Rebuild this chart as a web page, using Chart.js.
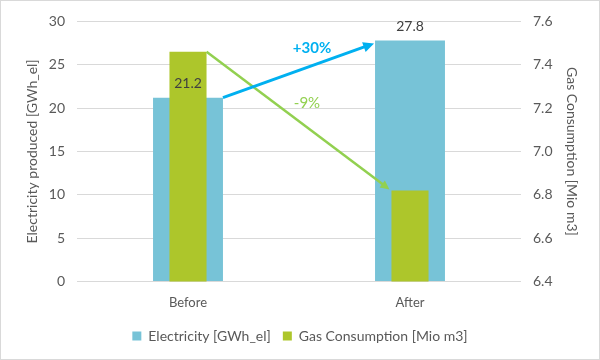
<!DOCTYPE html>
<html lang="en">
<head>
    <meta charset="UTF-8">
    <title>Electricity vs Gas</title>
    <script src="https://cdn.jsdelivr.net/npm/chart.js"></script>
    <style>
        body { margin: 0; background: #fff; }
        .wrap {
            width: 598px; height: 358px;
            border: 1px solid #d9d9d9;
        }
    </style>
</head>
<body>
    <div class="wrap"><canvas id="chart" width="598" height="358"></canvas></div>

    <script>
        // Daten
        const categories = ['Before', 'After'];
        const electricity = [21.2, 27.8];      // GWh_el
        const gasConsumption = [7.46, 6.82];   // Mio m3
        const leftTicks = { min: 0, max: 30, step: 5 };
        const rightTicks = { min: 6.4, max: 7.6, step: 0.2 };
        const changeLabels = { electricity: '+30%', gas: '-9%' };

        const blueArrow = '#00B0F0';
        const greenArrow = '#92D050';
        const fontFamily = 'Lato, "Open Sans", sans-serif';

        function arrow(ctx, x1, y1, x2, y2, color, width, head) {
            const a = Math.atan2(y2 - y1, x2 - x1);
            ctx.save();
            ctx.strokeStyle = color;
            ctx.fillStyle = color;
            ctx.lineWidth = width;
            ctx.beginPath();
            ctx.moveTo(x1, y1);
            ctx.lineTo(x2 - Math.cos(a) * head * 0.8, y2 - Math.sin(a) * head * 0.8);
            ctx.stroke();
            ctx.beginPath();
            ctx.moveTo(x2, y2);
            ctx.lineTo(x2 - head * Math.cos(a - 0.45), y2 - head * Math.sin(a - 0.45));
            ctx.lineTo(x2 - head * Math.cos(a + 0.45), y2 - head * Math.sin(a + 0.45));
            ctx.closePath();
            ctx.fill();
            ctx.restore();
        }

        // Pfeile + Beschriftungen
        const overlay = {
            id: 'overlay',
            afterDatasetsDraw(chart) {
                const ctx = chart.ctx;
                const e = chart.getDatasetMeta(0).data;
                const g = chart.getDatasetMeta(1).data;

                // Wertbeschriftungen Elektrizitaet
                ctx.save();
                ctx.font = '14px ' + fontFamily;
                ctx.fillStyle = '#404040';
                ctx.textAlign = 'center';
                ctx.textBaseline = 'bottom';
                e.forEach((bar, i) => {
                    ctx.fillText(electricity[i].toFixed(1), bar.x, bar.y - 7);
                });
                ctx.restore();

                // gruener Pfeil (Gas)
                arrow(ctx, g[0].x + g[0].width / 2, g[0].y, g[1].x - g[1].width / 2 - 2, g[1].y - 1, greenArrow, 2.5, 10);
                // blauer Pfeil (Strom)
                arrow(ctx, e[0].x + e[0].width / 2, e[0].y, e[1].x - e[1].width / 2 - 1, e[1].y + 3, blueArrow, 3, 12);

                const mx = (e[0].x + e[1].x) / 2;
                ctx.save();
                ctx.textAlign = 'center';
                ctx.textBaseline = 'middle';
                ctx.font = 'bold 15px ' + fontFamily;
                ctx.fillStyle = blueArrow;
                ctx.fillText(changeLabels.electricity, mx + 13, e[1].y + 8);
                ctx.font = '15px ' + fontFamily;
                ctx.fillStyle = greenArrow;
                ctx.fillText(changeLabels.gas, mx + 8, e[0].y + 5);
                ctx.restore();
            }
        };

        new Chart(document.getElementById('chart'), {
            type: 'bar',
            data: {
                labels: categories,
                datasets: [
                    {
                        label: 'Electricity [GWh_el]',
                        data: electricity,
                        backgroundColor: '#77C3D7',
                        yAxisID: 'y',
                        grouped: false,
                        order: 1,
                        categoryPercentage: 1,
                        barPercentage: 0.315
                    },
                    {
                        label: 'Gas Consumption [Mio m3]',
                        data: gasConsumption,
                        backgroundColor: '#ADC62B',
                        yAxisID: 'y1',
                        grouped: false,
                        order: 0,
                        categoryPercentage: 1,
                        barPercentage: 0.167
                    }
                ]
            },
            options: {
                responsive: false,
                animation: false,
                layout: { padding: { top: 12, right: 0, left: 0, bottom: 6 } },
                plugins: {
                    tooltip: { enabled: false },
                    legend: {
                        position: 'bottom',
                        labels: {
                            font: { family: fontFamily, size: 14 },
                            color: '#595959',
                            boxWidth: 9,
                            boxHeight: 9,
                            padding: 12,
                            sort: (a, b) => a.datasetIndex - b.datasetIndex
                        }
                    }
                },
                scales: {
                    x: {
                        grid: { display: false },
                        border: { display: false },
                        ticks: { color: '#595959', font: { family: fontFamily, size: 13 }, padding: 6 }
                    },
                    y: {
                        position: 'left',
                        min: leftTicks.min, max: leftTicks.max,
                        ticks: { stepSize: leftTicks.step, color: '#595959', font: { family: fontFamily, size: 14 }, padding: 12 },
                        grid: { color: '#d9d9d9', drawTicks: false },
                        border: { display: false },
                        title: { display: true, text: 'Electricity produced [GWh_el]', color: '#595959', font: { family: fontFamily, size: 14 }, padding: { top: 23, bottom: 0 } },
                        afterFit(s) { s.width = 76; }
                    },
                    y1: {
                        position: 'right',
                        min: rightTicks.min, max: rightTicks.max,
                        ticks: {
                            stepSize: rightTicks.step, color: '#595959', font: { family: fontFamily, size: 14 }, padding: 12,
                            callback: v => v.toFixed(1)
                        },
                        grid: { display: false, drawTicks: false },
                        border: { display: false },
                        title: { display: true, text: 'Gas Consumption [Mio m3]', color: '#595959', font: { family: fontFamily, size: 14 }, padding: { top: 19, bottom: 0 } },
                        afterFit(s) { s.width = 78; }
                    }
                }
            },
            plugins: [overlay]
        });
    </script>
</body>
</html>
